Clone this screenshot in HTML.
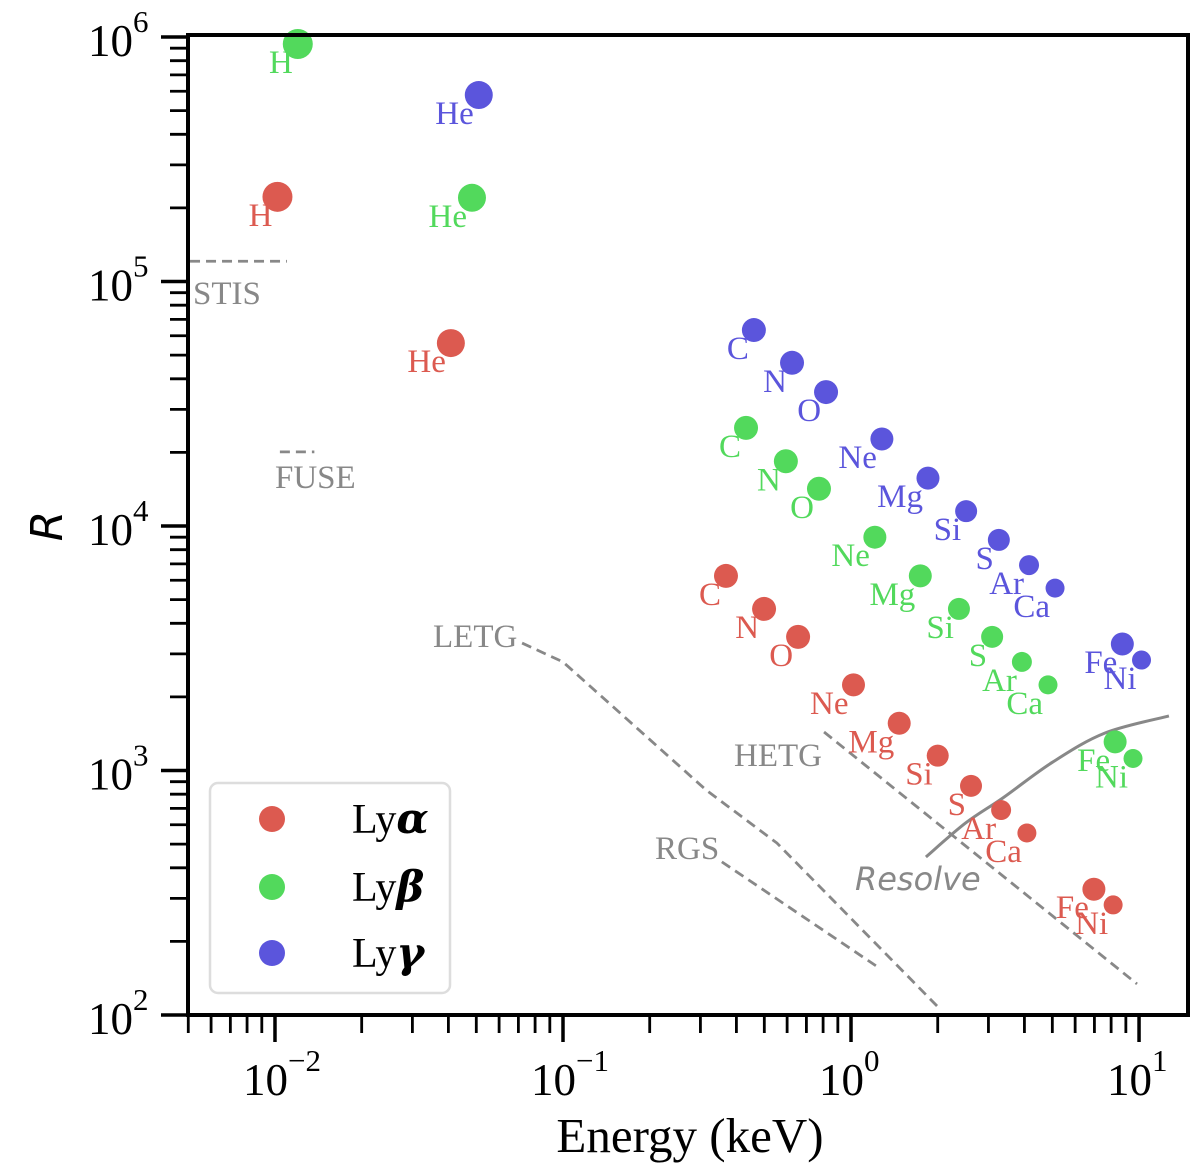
<!DOCTYPE html>
<html><head><meta charset="utf-8"><style>
html,body{margin:0;padding:0;background:#fff;}
svg{display:block;}
</style></head><body>
<svg id="chart" width="1200" height="1168" viewBox="0 0 1200 1168" xmlns="http://www.w3.org/2000/svg"></svg>
<script>
const elements = ["H","He","C","N","O","Ne","Mg","Si","S","Ar","Ca","Fe","Ni"];
const lyaE = [0.0102,0.0408,0.368,0.499,0.655,1.02,1.47,2.0,2.61,3.32,4.08,6.97,8.13];
const lyaR = [222000,56000,6250,4580,3520,2240,1560,1150,865,689,555,327,282];
const lybE = [0.0120,0.0483,0.432,0.594,0.774,1.21,1.74,2.37,3.09,3.92,4.83,8.26,9.53];
const lybR = [936000,220000,25200,18400,14200,9000,6250,4580,3520,2780,2240,1310,1120];
const lygElements = ["He","C","N","O","Ne","Mg","Si","S","Ar","Ca","Fe","Ni"];
const lygE = [0.051,0.46,0.624,0.819,1.28,1.85,2.51,3.26,4.15,5.11,8.75,10.2];
const lygR = [579000,63300,46500,35300,22700,15700,11500,8770,6920,5570,3290,2830];
const stisE = [0.00507,0.0110], stisR = [121000,121000];
const fuseE = [0.0104,0.0137], fuseR = [20100,20100];
const letgE = [0.0721,0.1,0.314,0.553,2.05], letgR = [3320,2780,832,505,105];
const rgsE = [0.356,1.22], rgsR = [423,159];
const hetgE = [0.806,9.84], hetgR = [1437,134];
const resolveE = [1.82,2.5,3.37,5.0,7.62,12.7], resolveR = [443,610,773,1080,1423,1671];
const xTicks = [-2,-1,0,1];
const yTicks = [2,3,4,5,6];

const NS="http://www.w3.org/2000/svg";
const svg=document.getElementById('chart');
const L=188,R=1188,T=35,B=1015;
const xl0=-2.302, xl1=1.170, yl0=2, yl1=6+2/244.5;
function xs(e){return L+(Math.log10(e)-xl0)/(xl1-xl0)*(R-L);}
function ys(r){return B-(Math.log10(r)-yl0)/(yl1-yl0)*(B-T);}
function mk(tag,attrs,parent){const el=document.createElementNS(NS,tag);for(const k in attrs)el.setAttribute(k,attrs[k]);(parent||svg).appendChild(el);return el;}
const serif='"Liberation Serif", serif';
const grayC='#888888';
const cols={a:'#dc5a50',b:'#52d95c',g:'#5b55dc'};
function rad(el){return ({H:15,He:14,C:12,N:12,O:12,Ne:11.5,Mg:11.5,Si:11,S:11,Ar:10,Ca:9.5,Fe:11.5,Ni:9.5})[el];}

function smoothPath(pts){
  let d='M'+pts[0][0]+','+pts[0][1];
  for(let i=0;i<pts.length-1;i++){
    const p0=pts[Math.max(i-1,0)],p1=pts[i],p2=pts[i+1],p3=pts[Math.min(i+2,pts.length-1)];
    const c1=[p1[0]+(p2[0]-p0[0])/6,p1[1]+(p2[1]-p0[1])/6];
    const c2=[p2[0]-(p3[0]-p1[0])/6,p2[1]-(p3[1]-p1[1])/6];
    d+=' C'+c1[0]+','+c1[1]+' '+c2[0]+','+c2[1]+' '+p2[0]+','+p2[1];
  }
  return d;
}
function curve(E,Rv,name,dash,smooth){
  const pts=E.map((e,i)=>[xs(e),ys(Rv[i])]);
  const p=smooth?mk('path',{d:smoothPath(pts),fill:'none',stroke:grayC,'stroke-width':3}):mk('polyline',{points:pts.map(q=>q.join(',')).join(' '),fill:'none',stroke:grayC,'stroke-width':2.8});
  if(dash)p.setAttribute('stroke-dasharray','10,6');
  
  
}
curve(stisE,stisR,'stis-line',true);
curve(fuseE,fuseR,'fuse-line',true);
curve(letgE,letgR,'letg-curve',true);
curve(rgsE,rgsR,'rgs-curve',true);
curve(hetgE,hetgR,'hetg-curve',true);
curve(resolveE,resolveR,'resolve-curve',false,true);
function txt(x,y,s,attrs,name){const t=mk('text',Object.assign({x:x,y:y},attrs));t.textContent=s;return t;}
const ia={fill:grayC,'font-family':serif,'font-size':33};
txt(193,304,'STIS',ia,'stis-label');
txt(275,488,'FUSE',ia,'fuse-label');
txt(433,647,'LETG',ia,'letg-label');
txt(655,859,'RGS',ia,'rgs-label');
txt(734,766,'HETG',ia,'hetg-label');
txt(855,890,'Resolve',{fill:grayC,'font-family':'"DejaVu Sans", sans-serif','font-style':'italic','font-size':32},'resolve-label');

function series(E,Rv,names,color,key){
  const g=mk('g',{});
  
  
  E.forEach((e,i)=>{
    const c=mk('circle',{cx:xs(e),cy:ys(Rv[i]),r:rad(names[i]),fill:color},g);
    
    
  });
  E.forEach((e,i)=>{
    const t=mk('text',{x:xs(e)-5,y:ys(Rv[i])+29,'text-anchor':'end',fill:color,'font-family':serif,'font-size':33},g);
    t.textContent=names[i];
    
    
  });
}
series(lyaE,lyaR,elements,cols.a,'ly-alpha');
series(lybE,lybR,elements,cols.b,'ly-beta');
series(lygE,lygR,lygElements,cols.g,'ly-gamma');

const fr=mk('rect',{x:L,y:T,width:R-L,height:B-T,fill:'none',stroke:'#000','stroke-width':4});


for(let d=-3;d<=1;d++){for(let m=1;m<=9;m++){const e=m*Math.pow(10,d);const x=xs(e);if(x<L-1||x>R+1)continue;
  const t=mk('line',{x1:x,x2:x,y1:B,y2:B+(m===1?27:18),stroke:'#000','stroke-width':m===1?3.5:2.8});
  
  }}
xTicks.forEach(p=>{const x=xs(Math.pow(10,p));
  const t=mk('text',{x:x-32,y:1095,'font-family':serif,'font-size':45,fill:'#000'});
  
  
  t.textContent='10';
  const s=mk('tspan',{dy:-24,'font-size':31},t);s.textContent=(p<0?'\u2212':'')+Math.abs(p);});
for(let d=2;d<=6;d++){for(let m=1;m<=9;m++){const r=m*Math.pow(10,d);const y=ys(r);if(y<T-1||y>B+1)continue;
  const t=mk('line',{x1:L,x2:L-(m===1?27:18),y1:y,y2:y,stroke:'#000','stroke-width':m===1?3.5:2.8});
  
  }}
yTicks.forEach(p=>{const y=ys(Math.pow(10,p));
  const t=mk('text',{x:88,y:y+19,'font-family':serif,'font-size':45,fill:'#000'});
  
  
  t.textContent='10';
  const s=mk('tspan',{dy:-24,'font-size':31},t);s.textContent=String(p);});
txt(690,1152,'Energy (keV)',{'text-anchor':'middle','font-family':serif,'font-size':49,fill:'#000'},'x-axis-title');
txt(0,0,'R',{'text-anchor':'middle','font-family':'"DejaVu Sans", sans-serif','font-style':'italic','font-size':44,fill:'#000',transform:'translate(62,526) rotate(-90)'},'y-axis-title');

const lg=mk('g',{});


mk('rect',{x:210,y:783,width:240,height:210,rx:8,fill:'#fff','fill-opacity':0.85,stroke:'#dddddd','stroke-width':2.5},lg);
[['α',cols.a,819,'legend-ly-alpha'],['β',cols.b,887,'legend-ly-beta'],['γ',cols.g,953,'legend-ly-gamma']].forEach(it=>{
  const c=mk('circle',{cx:272,cy:it[2],r:13,fill:it[1]},lg);
  
  
  const t=mk('text',{x:352,y:it[2]+14,'font-family':serif,'font-size':42,fill:'#000'},lg);
  
  
  t.textContent='Ly';
  const s=mk('tspan',{'font-family':'"DejaVu Serif", serif','font-style':'italic','font-weight':'bold'},t);s.textContent=it[0];
});
</script>
</body></html>
